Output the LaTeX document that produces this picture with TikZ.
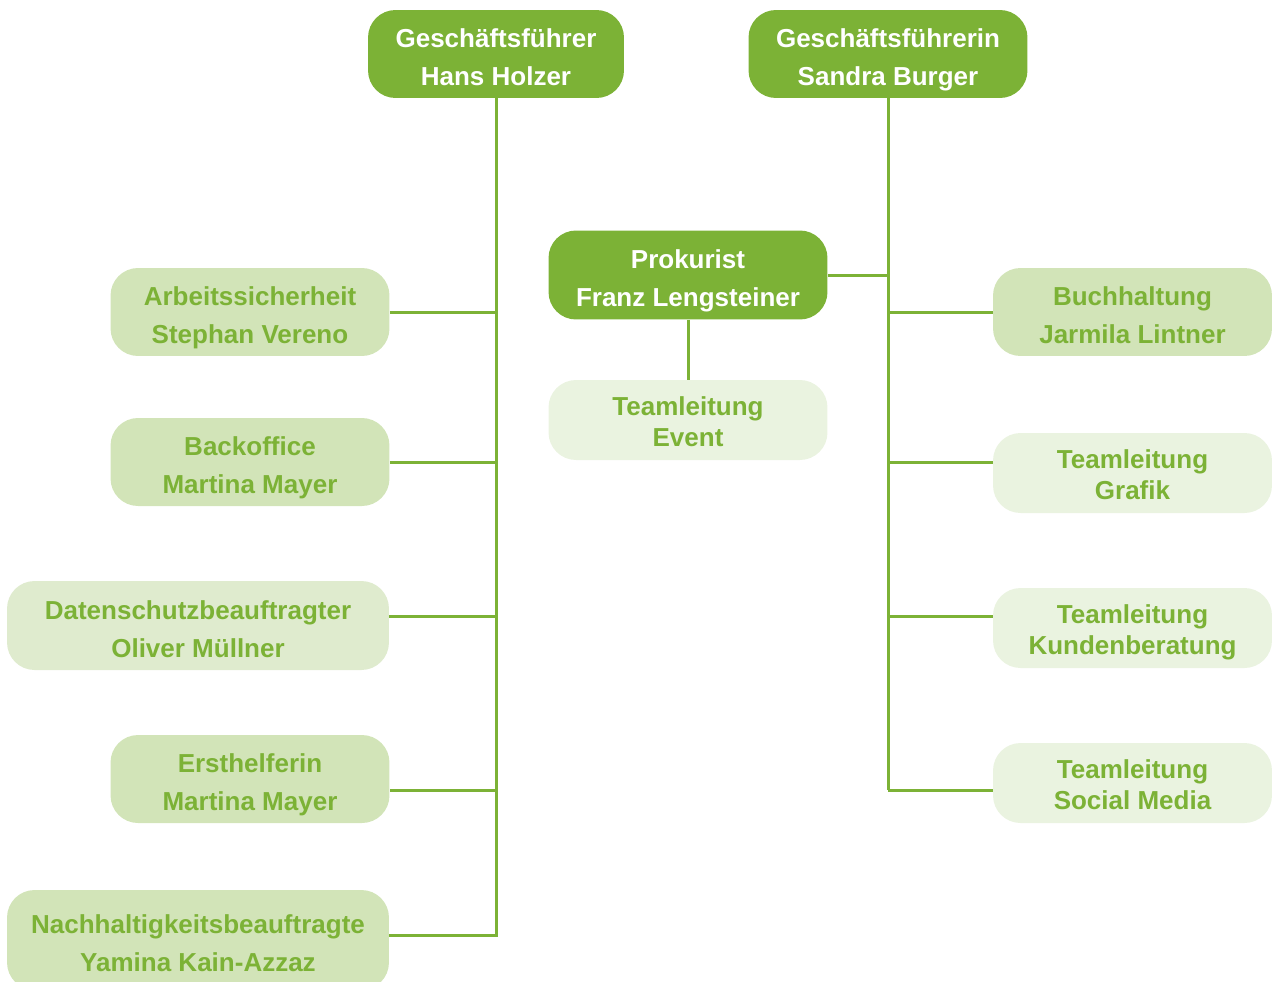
\documentclass[tikz,border=0pt]{standalone}
\usepackage{fontspec}
\setmainfont{Liberation Sans}
\begin{document}
\begin{tikzpicture}[x=0.02cm, y=-0.02cm]
    \definecolor{lineColour}{HTML}{7CB236}
    \definecolor{fillColourBoss}{HTML}{7CB236}
    \definecolor{fillColourStaff}{HTML}{D2E4B8}
    \definecolor{fillColourPale}{HTML}{DFEBCE}
    \definecolor{fillColourTeam}{HTML}{EAF3E0}

    \tikzset{
        box/.style={rounded corners=0.55cm, inner sep=0pt, align=center, minimum height=1.76cm, minimum width=5.58cm, text height=36pt, text depth=0pt, font=\bfseries\fontsize{14.8}{21.6}\selectfont},
        boss/.style={box, fill=fillColourBoss, text=white},
        staff/.style={box, fill=fillColourStaff, text=lineColour},
        pale/.style={box, fill=fillColourPale, text=lineColour},
        team/.style={box, fill=fillColourTeam, text=lineColour, minimum height=1.6cm, text height=30.6pt, font=\bfseries\fontsize{14.8}{18}\selectfont},
        link/.style={draw=lineColour, line width=1.7pt}
    }

    \useasboundingbox (0,0) rectangle (1274,981);

    % Draw managing directors
    \node[boss, minimum width=5.12cm] (gf1) at (496,54) {Geschäftsführer\\Hans Holzer};
    \node[boss] (gf2) at (888,54) {Geschäftsführerin\\Sandra Burger};

    % Draw Prokurist and his team
    \node[boss, minimum height=1.78cm] (prok) at (688,275) {Prokurist\\Franz Lengsteiner};
    \node[team] (event) at (688,420) {Teamleitung\\Event};

    % Draw left column
    \node[staff] (arb) at (250,312) {Arbeitssicherheit\\Stephan Vereno};
    \node[staff] (back) at (250,462) {Backoffice\\Martina Mayer};
    \node[pale, minimum width=7.64cm, minimum height=1.78cm] (dat) at (198,625.5) {Datenschutzbeauftragter\\Oliver Müllner};
    \node[staff] (erst) at (250,779) {Ersthelferin\\Martina Mayer};
    \node[staff, minimum width=7.64cm, minimum height=2cm] (nach) at (198,940) {Nachhaltigkeitsbeauftragte\\Yamina Kain-Azzaz};

    % Draw right column
    \node[staff] (buch) at (1132.5,312) {Buchhaltung\\Jarmila Lintner};
    \node[team] (graf) at (1132.5,473) {Teamleitung\\Grafik};
    \node[team] (kund) at (1132.5,628) {Teamleitung\\Kundenberatung};
    \node[team] (soc) at (1132.5,783) {Teamleitung\\Social Media};

    % Join points on the trunks
    \coordinate (datJoin) at (496,616);
    \coordinate (erstJoin) at (496,790);
    \coordinate (nachJoin) at (496,935);
    \coordinate (grafJoin) at (888,462);
    \coordinate (kundJoin) at (888,616);
    \coordinate (socJoin) at (888,790);

    % Draw left trunk
    \draw[link] (gf1.south) |- (nach.east |- nachJoin);
    \draw[link] (arb.east) -- (arb.east -| gf1.south);
    \draw[link] (back.east) -- (back.east -| gf1.south);
    \draw[link] (dat.east |- datJoin) -- (datJoin);
    \draw[link] (erst.east |- erstJoin) -- (erstJoin);

    % Draw right trunk
    \draw[link] (gf2.south) -- (socJoin);
    \draw[link] (prok.east) -- (prok.east -| gf2.south);
    \draw[link] (prok.south) -- (event.north);
    \draw[link] (buch.west -| gf2.south) -- (buch.west);
    \draw[link] (grafJoin) -- (graf.west |- grafJoin);
    \draw[link] (kundJoin) -- (kund.west |- kundJoin);
    \draw[link] (socJoin) -- (soc.west |- socJoin);

\end{tikzpicture}
\end{document}
